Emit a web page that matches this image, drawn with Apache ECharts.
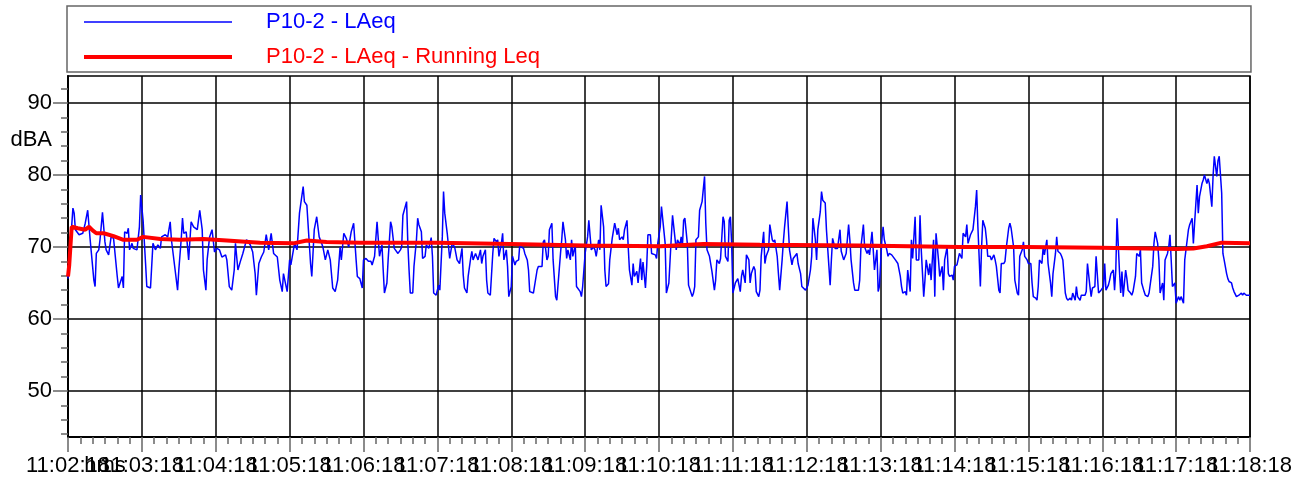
<!DOCTYPE html>
<html>
<head>
<meta charset="utf-8">
<script src="https://cdn.jsdelivr.net/npm/echarts@6.0.0/dist/echarts.min.js"></script>
<style>
  html, body { margin: 0; padding: 0; background: #fff; }
  #chart { width: 1308px; height: 479px; }
</style>
</head>
<body>
<div id="chart"></div>
<script>
// seconds after 11:02:18, dBA
var laeq = [
  [0,65.6],[4,75.4],[5,74.7],[6,72.4],[7,72.6],[9,71.7],[12,71.9],[14,73.3],[16,75.1],[18,71],[21,65.4],[22,64.5],[23,69.1],[25,69.6],[26,71],[28,74.8],[30,70.7],[31,69.6],[33,68.9],[35,71.4],[37,71.2],[40,65.9],[41,64.3],[42,64.5],[44,65.9],[45,64.3],[46,72.1],[48,71.9],[49,72.6],[50,69.6],[52,70.5],[53,69.8],[56,69.6],[58,72.8],[59,77.2],[61,73.7],[63,67.7],[64,64.5],[67,64.3],[69,70.5],[71,69.6],[73,70.3],[75,69.8],[76,71.4],[79,71.7],[81,71.4],[83,73.5],[84,71],[87,66.8],[89,64],[90,66.8],[92,71.2],[93,74],[94,71.9],[96,72.1],[98,68.2],[100,73.5],[102,72.8],[105,72.4],[107,75.1],[109,72.4],[110,66.8],[112,64],[113,68.2],[115,71.4],[117,72.4],[119,69.3],[121,69.8],[123,69.6],[125,68.6],[128,68.9],[129,68.2],[131,64.5],[133,64],[135,66.8],[136,70.5],[138,66.8],[140,68],[142,69.1],[145,71],[148,70.3],[150,69.3],[152,66.3],[153,63.3],[155,67.7],[157,68.6],[159,69.3],[161,71.7],[163,69.6],[165,71.9],[167,69.1],[170,68.6],[172,65.4],[174,63.8],[175,66.3],[178,63.8],[180,68.2],[181,67.5],[184,70.5],[186,69.6],[188,74.7],[191,78.4],[192,76.3],[194,75.8],[197,67.7],[198,65.9],[200,72.4],[202,74.2],[204,71.4],[206,70.5],[207,70],[209,68.2],[211,69.6],[213,68.2],[215,64.3],[217,63.8],[219,65.4],[221,70],[222,68.2],[224,71.9],[226,71.2],[228,70],[230,72.1],[232,73.3],[234,68.2],[235,65.9],[237,65.6],
  [239,64.3],[240,68.2],[242,68.4],[244,68],[246,68],[247,67.5],[249,68.7],[251,73.5],[252,73.7],[253,68.7],[255,70.3],[256,66.8],[257,63.6],[259,65],[260,68.2],[262,73.5],[263,72.8],[265,69.8],[266,69.8],[268,69.1],[270,69.6],[271,70],[272,74.4],[275,76.3],[276,70.5],[277,66.8],[278,63.6],[280,63.6],[281,67.3],[283,71],[284,74],[285,73.1],[287,72.1],[288,68.4],[290,68.7],[291,70.3],[293,69.8],[295,71.3],[296,68.7],[297,63.6],[299,63.3],[301,64.7],[302,64],[304,71.4],[305,77.7],[306,74.7],[308,71.9],[309,71.9],[310,68.4],[312,70.5],[313,70.7],[314,70],[316,68.2],[317,68.4],[318,67.7],[320,69.8],[321,66.1],[322,64.3],[324,63.6],[325,65.9],[327,68.4],[328,69.4],[329,68.2],[331,69.1],[332,68.9],[333,68.2],[335,69.6],[336,67.7],[337,68.7],[339,69.6],[340,65.4],[341,63.6],[343,63.3],[345,69.1],[346,71.2],[348,70.7],[349,71],[350,68.7],[352,70.5],[353,71.9],[354,68.2],[356,69.6],[357,67.3],[358,63.1],[360,64.5],[361,68.7],[363,67.5],[364,68],[366,68.2],[367,70.5],[368,70],[370,69.8],[371,69.1],[373,68.2],[374,66.8],[375,63.8],[378,63.6],[379,63.8],[381,66.8],[382,67.3],[383,67.5],[385,67.3],[386,70.7],[387,71],[389,68.2],[390,68.7],[391,72.4],[393,73.3],[394,68.2],[396,63.1],[397,62.6],[398,62.4],[400,69.1],[401,71],[402,73.5],[404,71],[405,68.4],[406,69.6],[408,68.2],[409,71],[410,68.7],[412,70.3],[413,64.5],[414,64.7],[416,63.8],[417,63.1],[418,64.5],[420,69.1],[422,71.4],[423,73.7],[425,69.6],[427,70],[428,69.6],[429,68.7],[431,71],[432,69.6],[433,75.8],[435,72.8],[436,66.8],[437,64.5],[439,64.9],[440,68.2],[442,71.2],[443,71],[444,73.3],[446,71.7],[447,72.6],[448,71],[450,71.4],[451,71],[452,72.4],[454,73.7],[455,70],[456,66.8],[458,64.7],[459,67.7],[460,65.9],[462,66.6],[463,65],[465,68.4],[466,65.4],[467,67.9],[469,64.3],[470,67.3],[471,71.7],[473,71.7],[474,69.1],[475,68.9],[477,68.9],[478,68.4],[479,70.5],
  [481,72.8],[482,75.6],[483,75.6],[485,70.5],[486,63.6],[488,65],[489,68.2],[490,71.4],[491,74.4],[492,72.8],[494,69.6],[495,71],[497,70.3],[498,71.4],[499,70],[500,73.7],[501,74],[503,70.5],[504,64.7],[505,64.5],[507,63.1],[508,63.6],[509,64.5],[510,71],[512,71.4],[513,75.1],[515,76.3],[516,76.5],[517,79.8],[518,73.3],[519,69.6],[521,68.7],[523,66.6],[524,66.6],[525,64],[526,65.4],[527,68.2],[529,67.7],[530,68.4],[532,74.2],[533,73.5],[534,68.7],[536,68],[537,73.7],[538,74.2],[539,70.5],[540,63.6],[542,65],[543,65],[544,65.6],[546,63.8],[547,65.9],[548,66.8],[550,65],[551,68.9],[553,68.2],[554,65],[555,66.3],[557,67.3],[558,66.8],[559,63.8],[561,63.1],[562,64],[563,68.7],[565,72.1],[566,67.7],[567,68.7],[569,69.6],[570,73.1],[572,71],[573,70.7],[574,71],[576,68.7],[577,66.3],[578,64],[580,68.2],[581,70.7],[582,72.8],[584,76.3],[585,72.8],[586,69.6],[588,67.5],[589,68.4],[590,68.2],[592,69.1],[593,67.7],[595,66.3],[596,64.5],[597,64.3],[599,64],[600,64.3],[601,64.7],[603,66.8],[604,68.7],[605,74],[607,71],[608,68.2],[609,72.4],[611,74.9],[612,77.7],[613,76.5],[615,76.1],[616,72.4],[618,67.3],[619,64.7],[620,68.2],[621,71.2],[623,69.8],[624,70],[625,69.8],[627,72.4],[628,69.4],[630,68.2],[631,68],[632,69.1],[634,73.1],[635,71],[636,68.2],[638,65],[639,64],[640,63.8],[642,64],[643,65.4],[644,70],[646,73.1],[647,70],[649,69.1],[650,69.6],[651,68.9],[653,72.1],[654,69.6],[655,66.8],[657,69.6],[658,63.8],[659,64.5],[661,71],[662,72.8],[663,71],[665,69.6],[666,68.7],[667,69.1],[669,68.9],[670,68.9],[672,68.2],[673,68.2],[674,67.7],[676,65.9],[677,64.5],[678,63.6],[680,63.8],[681,63.3],[682,66.8],[684,63.8],[685,71],[686,68.4],[688,74.2],[689,68.2],[691,68.2],[692,74.4],[693,69.6],[695,63.1],[696,65.4],[697,68.2],[699,66.1],[700,67.7],[701,65.4],[703,71],[704,63.1],[705,71.9],[707,68.2],[708,65.9],[710,67.3],[711,64],[712,68.2],[714,70],[715,66.3],[716,65.9],[718,66.1],[719,65.4],[720,67.3],[722,67.5],[724,69.1],
  [726,68.4],[727,71.9],[729,71.4],[730,73.1],[731,70.5],[733,71.7],[734,71.9],[735,72.4],[737,75.6],[738,77.9],[739,72.8],[741,64.5],[742,70],[743,73.7],[745,72.6],[746,71],[747,68.7],[749,68.7],[750,68.2],[752,68.9],[753,68.2],[754,67.3],[756,64],[757,63.6],[758,67.7],[760,67.7],[761,68],[762,69.8],[764,72.6],[765,73.3],[766,72.6],[768,70],[769,65.4],[771,63.6],[772,63.3],[773,68.7],[775,69.6],[776,70.7],[777,68.7],[779,68.2],[780,67.7],[782,67.7],[783,65],[784,63.1],[786,62.9],[787,62.6],[788,64.5],[789,68.2],[791,67.7],[792,70],[793,68.9],[795,71],[796,67.7],[798,65],[799,63.1],[800,66.3],[802,69.1],[803,71.4],[804,69.4],[806,69.1],[807,68.7],[808,68.2],[810,63.6],[811,62.9],[812,62.6],[814,62.9],[815,62.6],[816,63.6],[818,62.6],[819,64.5],[820,63.1],[822,62.6],[823,63.3],[824,63.1],[826,63.3],[827,63.8],[828,67.7],[830,64.5],[831,63.1],[832,64.3],[834,64.5],[835,68.7],[837,63.6],[838,63.8],[839,64],[841,64.5],[842,67.7],[843,64],[845,64.7],[846,65.4],[847,66.3],[849,66.8],[850,64],[851,66.8],[852,74],[854,66.6],[855,63.6],[856,66.6],[857,63.1],[859,66.8],[860,65.6],[861,64],[863,63.6],[864,63.3],[865,63.8],[867,65.9],[868,69.1],[870,68.7],[871,69.6],[872,65],[874,63.8],[875,63.3],[877,63.1],[878,63.6],[879,63.6],[881,67.3],[882,70.5],[883,72.1],[885,70.5],[886,68.2],[887,63.6],[889,65],[890,62.6],[891,68.2],[893,69.1],[894,70],[895,71.7],[896,68.2],[897,64.5],[899,65],[900,62.2],[902,63.1],[903,62.6],[904,63.1],[906,62.2],[907,68.2],[909,71],[910,72.4],[911,73.1],[913,74],[914,70.5],[915,73.3],[917,78.6],[918,74.7],[919,77],[921,78.8],[922,79.3],[923,80],[925,78.8],[926,79.5],[927,78.8],[929,75.6],[930,79.8],[931,82.6],[933,79.8],[934,82],[935,82.6],[937,77.5],[938,69.1],[939,68.2],[941,66.3],[942,65.6],[943,65.2],[945,65],[946,64.3],[947,63.8],[949,63.1],[950,63.3],[951,63.3],[953,63.6],[954,63.3],[955,63.6],[957,63.3],[960,63.3]
];

var runningLeq = [
  [0,65.9],[1,67.5],[3,72.8],[8,72.6],[14,72.4],[17,72.8],[20,72.3],[23,71.9],[29,71.9],[37,71.5],[45,71],[56,71],[61,71.4],[75,71.1],[91,71],[110,71.1],[129,70.9],[156,70.6],[183,70.5],[194,70.9],[210,70.7],[237,70.6],[300,70.6],[359,70.4],[420,70.2],[481,70.1],[516,70.4],[562,70.3],[643,70.2],[724,70],[778,70],[838,69.9],[900,69.7],[914,69.8],[925,70.1],[937,70.6],[960,70.5]
];

// x tick labels, split in two sets so neighbouring labels can overlap like the original
var xLabelsA = [0, 120, 240, 360, 480, 600, 720, 840, 960];
var xLabelsB = [60, 180, 300, 420, 540, 660, 780, 900];
var yMajorTicks = [50, 60, 70, 80, 90];
var yMinorTicks = [44, 46, 48, 52, 54, 56, 58, 62, 64, 66, 68, 72, 74, 76, 78, 82, 84, 86, 88, 92];

var FONT = "'Liberation Sans', Arial, sans-serif";

function timeLabel(v) {
  var m = 2 + Math.round(v / 60);
  return "11:" + (m < 10 ? "0" + m : m) + ":18";
}

var dom = document.getElementById("chart");
var myChart = echarts.init(dom, null, { renderer: "canvas" });

var option = {
  animation: false,
  textStyle: { fontFamily: FONT },
  legend: {
    orient: "vertical",
    left: 67,
    top: 6,
    padding: [5, 711, 4, 17],
    itemWidth: 148,
    itemHeight: 14,
    itemGap: 13,
    borderColor: "#666",
    borderWidth: 1.5,
    textStyle: { fontFamily: FONT, fontSize: 22, lineHeight: 22, padding: [0, 0, 0, 29] },
    data: [
      { name: "P10-2 - LAeq", icon: "path://M0,0L148,0L148,1.5L0,1.5Z", itemStyle: { color: "#0000ff" }, textStyle: { color: "#0000ff" } },
      { name: "P10-2 - LAeq - Running Leq", icon: "path://M0,0L148,0L148,4L0,4Z", itemStyle: { color: "#ff0000" }, textStyle: { color: "#ff0000" } },
    ],
  },
  grid: {
    left: 68,
    right: 58,
    top: 76,
    bottom: 42,
    containLabel: false,
    outerBoundsMode: "none",
    show: true,
    borderColor: "#000",
    borderWidth: 1.5,
  },
  xAxis: [
    {
      type: "value",
      min: 0,
      max: 960,
      interval: 60,
      position: "bottom",
      name: "hms",
      nameLocation: "start",
      nameGap: -37,
      nameMoveOverlap: false,
      nameTextStyle: {
        align: "center",
        verticalAlign: "top",
        padding: [18, 0, 0, 0],
        fontSize: 22,
        color: "#000",
        fontFamily: FONT,
      },
      axisLine: { show: true, lineStyle: { color: "#000", width: 2 } },
      axisTick: { show: true, length: 15, lineStyle: { color: "#666", width: 1.5 } },
      minorTick: { show: true, splitNumber: 6, length: 7, lineStyle: { color: "#666", width: 1.5 } },
      axisLabel: {
        customValues: xLabelsA,
        margin: 18,
        fontSize: 22,
        color: "#000",
        fontFamily: FONT,
        showMinLabel: true,
        showMaxLabel: true,
        formatter: timeLabel,
      },
      splitLine: { show: true, lineStyle: { color: "#000", width: 1.5 } },
    },
    {
      type: "value",
      min: 0,
      max: 960,
      interval: 60,
      position: "bottom",
      axisLine: { show: false },
      axisTick: { show: false },
      axisLabel: {
        customValues: xLabelsB,
        margin: 18,
        fontSize: 22,
        color: "#000",
        fontFamily: FONT,
        showMinLabel: true,
        showMaxLabel: true,
        formatter: timeLabel,
      },
      splitLine: { show: false },
    },
  ],
  yAxis: [
    {
      type: "value",
      min: 43.6,
      max: 93.75,
      position: "left",
      name: "dBA",
      nameLocation: "end",
      nameGap: -64,
      nameMoveOverlap: false,
      nameTextStyle: {
        align: "right",
        verticalAlign: "middle",
        padding: [0, 16, 0, 0],
        fontSize: 22,
        color: "#000",
        fontFamily: FONT,
      },
      axisLine: { show: true, lineStyle: { color: "#000", width: 2 } },
      axisTick: { show: true, length: 15, customValues: yMajorTicks, lineStyle: { color: "#666", width: 1.5 } },
      axisLabel: { customValues: yMajorTicks, margin: 16, fontSize: 22, color: "#000", fontFamily: FONT },
      splitLine: { show: true, lineStyle: { color: "#000", width: 1.5 } },
    },
    {
      type: "value",
      min: 43.6,
      max: 93.75,
      position: "left",
      axisLine: { show: false },
      axisTick: { show: true, length: 7, customValues: yMinorTicks, lineStyle: { color: "#666", width: 1.5 } },
      axisLabel: { show: false },
      splitLine: { show: false },
    },
  ],
  series: [
    {
      name: "P10-2 - LAeq",
      type: "line",
      data: laeq,
      symbol: "none",
      lineStyle: { color: "#0000ff", width: 1.5 },
      itemStyle: { color: "#0000ff" },
    },
    {
      name: "P10-2 - LAeq - Running Leq",
      type: "line",
      data: runningLeq,
      symbol: "none",
      lineStyle: { color: "#ff0000", width: 4 },
      itemStyle: { color: "#ff0000" },
    },
  ],
};

myChart.setOption(option);
window.addEventListener("resize", myChart.resize);
</script>
</body>
</html>
